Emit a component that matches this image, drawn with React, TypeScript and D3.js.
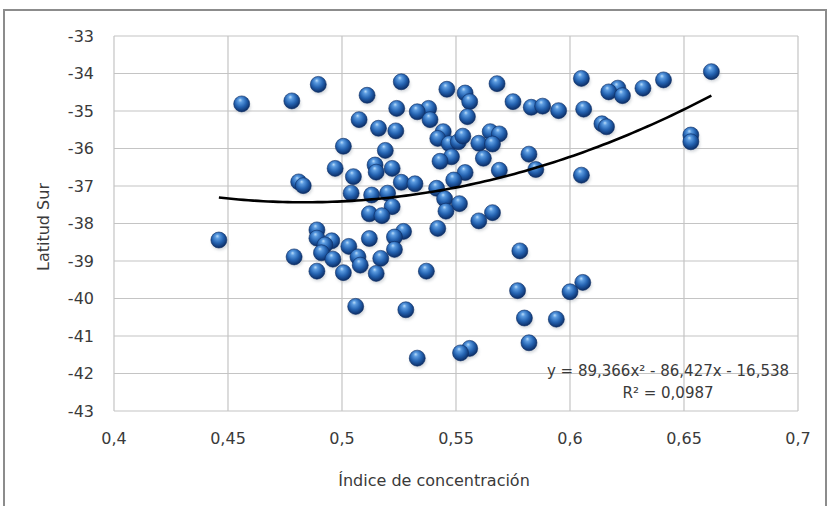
import React from "react";
import * as d3 from "d3";

// Índice de concentración (x) and Latitud Sur (y)
const indice: number[] = [
  0.662, 0.605, 0.641, 0.526, 0.568, 0.4896, 0.546, 0.621, 0.632, 0.617,
  0.554, 0.511, 0.623, 0.478, 0.456, 0.556, 0.575, 0.524, 0.538, 0.583,
  0.588, 0.533, 0.595, 0.606, 0.5075, 0.5386, 0.555, 0.614, 0.616, 0.516,
  0.5236, 0.5444, 0.542, 0.547, 0.551, 0.553, 0.56, 0.565, 0.569, 0.566,
  0.653, 0.653, 0.5006, 0.519, 0.548, 0.543, 0.562, 0.582, 0.497, 0.5145,
  0.515, 0.522, 0.505, 0.554, 0.569, 0.585, 0.605, 0.549, 0.481, 0.483,
  0.526, 0.532, 0.5415, 0.504, 0.513, 0.52, 0.545, 0.522, 0.5515, 0.512,
  0.5175, 0.5456, 0.566, 0.56, 0.542, 0.527, 0.489, 0.446, 0.489, 0.4955,
  0.4925, 0.503, 0.512, 0.523, 0.491, 0.523, 0.479, 0.496, 0.507, 0.517,
  0.508, 0.578, 0.489, 0.5006, 0.515, 0.537, 0.6056, 0.6, 0.577, 0.506,
  0.528, 0.58, 0.594, 0.582, 0.556, 0.552, 0.533,
];
const latitud: number[] = [
  -33.95, -34.13, -34.17, -34.22, -34.27, -34.29, -34.42, -34.39, -34.39, -34.49,
  -34.52, -34.58, -34.59, -34.73, -34.81, -34.75, -34.75, -34.93, -34.93, -34.9,
  -34.87, -35.02, -34.99, -34.95, -35.23, -35.23, -35.15, -35.34, -35.42, -35.46,
  -35.53, -35.55, -35.73, -35.87, -35.82, -35.67, -35.86, -35.55, -35.61, -35.88,
  -35.64, -35.82, -35.94, -36.05, -36.22, -36.34, -36.26, -36.15, -36.53, -36.44,
  -36.63, -36.53, -36.75, -36.64, -36.58, -36.56, -36.71, -36.84, -36.89, -36.99,
  -36.9, -36.94, -37.06, -37.19, -37.24, -37.19, -37.34, -37.55, -37.47, -37.74,
  -37.79, -37.67, -37.71, -37.93, -38.13, -38.21, -38.17, -38.44, -38.39, -38.46,
  -38.57, -38.61, -38.4, -38.36, -38.78, -38.69, -38.89, -38.95, -38.89, -38.93,
  -39.11, -38.73, -39.27, -39.31, -39.33, -39.27, -39.57, -39.82, -39.79, -40.21,
  -40.3, -40.52, -40.55, -41.18, -41.33, -41.45, -41.59,
];

const xTicks: number[] = [0.4, 0.45, 0.5, 0.55, 0.6, 0.65, 0.7];
const yTicks: number[] = [-33, -34, -35, -36, -37, -38, -39, -40, -41, -42, -43];

// Polynomial trendline coefficients (a x² + b x + c)
const trendCoef: number[] = [89.366, -86.427, -16.538];
const equationText = "y = 89,366x² - 86,427x - 16,538";
const r2Text = "R² = 0,0987";
const xTitle = "Índice de concentración";
const yTitle = "Latitud Sur";

const W = 828;
const H = 506;
const plot = { left: 114, right: 798, top: 36, bottom: 411 };
const FONT = "'DejaVu Sans', sans-serif";
const TEXT = "#3a3a3a";

export default function App() {
  const x = d3.scaleLinear().domain([0.4, 0.7]).range([plot.left, plot.right]);
  const y = d3.scaleLinear().domain([-43, -33]).range([plot.bottom, plot.top]);

  const fmt = (v: number) => String(v).replace(".", ",");

  const [a, b, c] = trendCoef;
  const xMin = d3.min(indice) as number;
  const xMax = d3.max(indice) as number;
  const samples = d3.range(0, 101).map((i) => xMin + ((xMax - xMin) * i) / 100);
  const line = d3
    .line<number>()
    .x((v) => x(v))
    .y((v) => y(a * v * v + b * v + c))
    .curve(d3.curveLinear);

  const pts = indice.map((v, i) => ({ xv: v, yv: latitud[i] }));

  return (
    <svg
      width={W}
      height={H}
      style={{ position: "absolute", left: 0, top: 0, background: "#fff" }}
    >
      <defs>
        <radialGradient id="ball" cx="45%" cy="40%" r="60%" fx="40%" fy="25%">
          <stop offset="0%" stopColor="#b9dcfa" />
          <stop offset="22%" stopColor="#5b9be0" />
          <stop offset="60%" stopColor="#2462b0" />
          <stop offset="100%" stopColor="#0b2d66" />
        </radialGradient>
        <filter id="blur" x="-50%" y="-50%" width="200%" height="200%">
          <feGaussianBlur stdDeviation="1.6" />
        </filter>
      </defs>
      <rect x={0} y={0} width={W} height={H} fill="#fff" />
      <rect
        x={4}
        y={10}
        width={822}
        height={H + 20}
        fill="none"
        stroke="#8c8c8c"
        strokeWidth={2}
      />

      {/* gridlines */}
      {yTicks.map((t) => (
        <line
          key={"gy" + t}
          x1={plot.left}
          x2={plot.right}
          y1={y(t)}
          y2={y(t)}
          stroke="#c4c4c4"
          strokeWidth={1.2}
        />
      ))}
      {xTicks.map((t) => (
        <line
          key={"gx" + t}
          x1={x(t)}
          x2={x(t)}
          y1={plot.top}
          y2={plot.bottom}
          stroke="#c4c4c4"
          strokeWidth={1.2}
        />
      ))}

      {/* tick labels */}
      {yTicks.map((t) => (
        <text
          key={"ly" + t}
          x={94}
          y={y(t)}
          dy="0.36em"
          textAnchor="end"
          fontFamily={FONT}
          fontSize={16}
          fill={TEXT}
        >
          {fmt(t)}
        </text>
      ))}
      {xTicks.map((t) => (
        <text
          key={"lx" + t}
          x={x(t)}
          y={444}
          textAnchor="middle"
          fontFamily={FONT}
          fontSize={16}
          fill={TEXT}
        >
          {fmt(t)}
        </text>
      ))}

      {/* axis titles */}
      <text
        x={434}
        y={486}
        textAnchor="middle"
        fontFamily={FONT}
        fontSize={16}
        fill={TEXT}
      >
        {xTitle}
      </text>
      <text
        transform={`translate(43, 227) rotate(-90)`}
        dy="0.36em"
        textAnchor="middle"
        fontFamily={FONT}
        fontSize={16}
        fill={TEXT}
      >
        {yTitle}
      </text>

      {/* markers */}
      {pts.map((p, i) => (
        <ellipse
          key={"s" + i}
          cx={x(p.xv) + 1}
          cy={y(p.yv) + 3}
          rx={8}
          ry={7}
          fill="#9aa3ad"
          opacity={0.45}
          filter="url(#blur)"
        />
      ))}
      {pts.map((p, i) => (
        <circle
          key={"p" + i}
          cx={x(p.xv)}
          cy={y(p.yv)}
          r={8}
          fill="url(#ball)"
          stroke="#0d2e63"
          strokeWidth={0.6}
        />
      ))}

      {/* trendline */}
      <path d={line(samples) || ""} fill="none" stroke="#000" strokeWidth={2.6} />

      {/* equation */}
      <text
        x={668}
        y={376}
        textAnchor="middle"
        fontFamily={FONT}
        fontSize={15}
        fill={TEXT}
      >
        {equationText}
      </text>
      <text
        x={668}
        y={398}
        textAnchor="middle"
        fontFamily={FONT}
        fontSize={15}
        fill={TEXT}
      >
        {r2Text}
      </text>
    </svg>
  );
}
